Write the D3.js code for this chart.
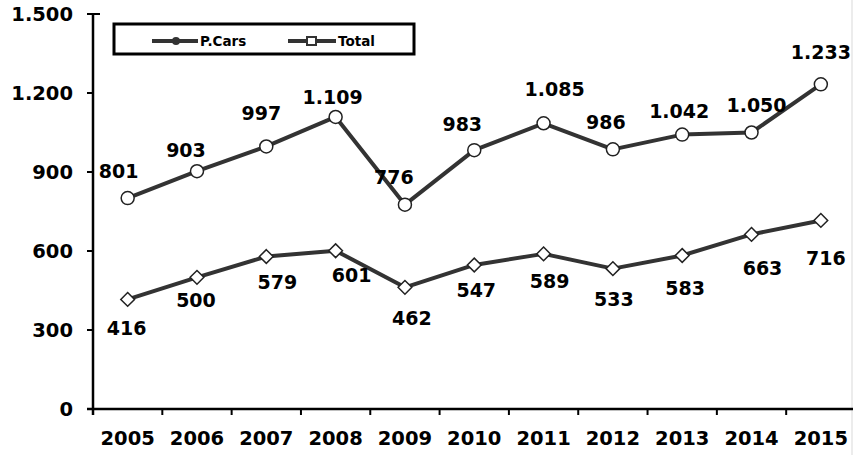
<!DOCTYPE html>
<html>
<head>
<meta charset="utf-8">
<script src="https://cdn.jsdelivr.net/npm/d3@7"></script>
<style>
  html, body { margin: 0; padding: 0; background: #fff; }
  svg { display: block; }
  text { font-family: "DejaVu Sans", Verdana, sans-serif; font-weight: bold; fill: #000; }
</style>
</head>
<body>
<svg id="chart" width="853" height="455"></svg>
<script>
// ---- data ----
const years = ["2005","2006","2007","2008","2009","2010","2011","2012","2013","2014","2015"];
const totalValues = [801, 903, 997, 1109, 776, 983, 1085, 986, 1042, 1050, 1233];
const pcarsValues = [416, 500, 579, 601, 462, 547, 589, 533, 583, 663, 716];
const yTicks = [0, 300, 600, 900, 1200, 1500];
const seriesNames = ["P.Cars", "Total"];

// label placement offsets (px, relative to the marker)
const totalLabelDx = [-9, -11, -5, -3, -11, -12, 11, -7, -3, 5, 0];
const totalLabelDy = [-20, -14, -26, -13, -21, -19, -27, -20, -17, -21, -25];
const pcarsLabelDx = [-1, -1, 11, 16, 7, 2, 6, 1, 3, 11, 5];
const pcarsLabelDy = [36, 30, 32, 31, 38, 32, 34, 37, 40, 41, 45];

const fmt = d3.formatLocale({decimal: ",", thousands: ".", grouping: [3], currency: ["", ""]}).format(",d");

const svg = d3.select("#chart");
const mLeft = 93, mBottom = 409, mTop = 14, mRight = 855.5;

const x = d3.scaleBand().domain(years).range([mLeft, mRight]).padding(0);
const y = d3.scaleLinear().domain([0, 1500]).range([mBottom, mTop]);
const cx = d => x(d) + x.bandwidth() / 2;

// right border (faint)
svg.append("line").attr("x1", 852).attr("x2", 852).attr("y1", 0).attr("y2", 455)
  .attr("stroke", "#d9d9d9").attr("stroke-width", 1);

// y axis
const yAxis = svg.append("g");
yAxis.append("line").attr("x1", mLeft).attr("x2", mLeft).attr("y1", mTop).attr("y2", mBottom + 6)
  .attr("stroke", "#000").attr("stroke-width", 2.5);
yAxis.selectAll("line.tick").data(yTicks).enter().append("line")
  .attr("class", "tick")
  .attr("x1", mLeft - 6).attr("x2", mLeft)
  .attr("y1", d => y(d)).attr("y2", d => y(d))
  .attr("stroke", "#000").attr("stroke-width", 2);
yAxis.append("line").attr("x1", mLeft).attr("x2", mLeft + 7).attr("y1", y(1500)).attr("y2", y(1500))
  .attr("stroke", "#000").attr("stroke-width", 2);
yAxis.selectAll("text").data(yTicks).enter().append("text")
  .attr("x", 73).attr("y", d => y(d)).attr("dy", "0.36em")
  .attr("text-anchor", "end").attr("font-size", 19.5)
  .text(d => fmt(d));

// x axis
const xAxis = svg.append("g");
xAxis.append("line").attr("x1", mLeft - 6).attr("x2", 853).attr("y1", mBottom).attr("y2", mBottom)
  .attr("stroke", "#000").attr("stroke-width", 2.5);
const tickPos = years.map(d => x(d)).concat([x(years[years.length - 1]) + x.bandwidth()]);
xAxis.selectAll("line.tick").data(tickPos.slice(1)).enter().append("line")
  .attr("class", "tick")
  .attr("x1", d => d).attr("x2", d => d).attr("y1", mBottom).attr("y2", mBottom + 6)
  .attr("stroke", "#000").attr("stroke-width", 2);
xAxis.selectAll("text").data(years).enter().append("text")
  .attr("x", d => cx(d)).attr("y", 445)
  .attr("text-anchor", "middle").attr("font-size", 19.5)
  .text(d => d);

// lines
const lineGen = d3.line().x((d, i) => cx(years[i])).y(d => y(d));
const lineColor = "#333333";
svg.append("path").datum(totalValues).attr("d", lineGen)
  .attr("fill", "none").attr("stroke", lineColor).attr("stroke-width", 4).attr("stroke-linejoin", "round");
svg.append("path").datum(pcarsValues).attr("d", lineGen)
  .attr("fill", "none").attr("stroke", lineColor).attr("stroke-width", 4).attr("stroke-linejoin", "round");

// markers
svg.selectAll("circle.total").data(totalValues).enter().append("circle")
  .attr("class", "total")
  .attr("cx", (d, i) => cx(years[i])).attr("cy", d => y(d)).attr("r", 6.5)
  .attr("fill", "#fff").attr("stroke", "#222").attr("stroke-width", 1.5);
const diamond = d3.symbol().type(d3.symbolDiamond2).size(120);
svg.selectAll("path.pcars").data(pcarsValues).enter().append("path")
  .attr("class", "pcars")
  .attr("d", diamond)
  .attr("transform", (d, i) => `translate(${cx(years[i])},${y(d)})`)
  .attr("fill", "#fff").attr("stroke", "#222").attr("stroke-width", 1.5);

// data labels
svg.selectAll("text.tl").data(totalValues).enter().append("text")
  .attr("class", "tl")
  .attr("x", (d, i) => cx(years[i]) + totalLabelDx[i])
  .attr("y", (d, i) => y(d) + totalLabelDy[i])
  .attr("text-anchor", "middle").attr("font-size", 19)
  .text(d => fmt(d));
svg.selectAll("text.pl").data(pcarsValues).enter().append("text")
  .attr("class", "pl")
  .attr("x", (d, i) => cx(years[i]) + pcarsLabelDx[i])
  .attr("y", (d, i) => y(d) + pcarsLabelDy[i])
  .attr("text-anchor", "middle").attr("font-size", 19)
  .text(d => fmt(d));

// legend
const lg = svg.append("g");
lg.append("rect").attr("x", 114).attr("y", 24).attr("width", 300).attr("height", 30)
  .attr("fill", "#fff").attr("stroke", "#000").attr("stroke-width", 3);
const legendItems = [
  {name: seriesNames[0], x0: 152, x1: 198, tx: 200},
  {name: seriesNames[1], x0: 288, x1: 336, tx: 338}
];
lg.selectAll("line.l").data(legendItems).enter().append("line")
  .attr("x1", d => d.x0).attr("x2", d => d.x1).attr("y1", 41).attr("y2", 41)
  .attr("stroke", lineColor).attr("stroke-width", 4);
lg.append("circle").attr("cx", 176).attr("cy", 41).attr("r", 4).attr("fill", "#333");
lg.append("rect").attr("x", 307).attr("y", 37).attr("width", 9).attr("height", 8)
  .attr("fill", "#fff").attr("stroke", "#333").attr("stroke-width", 2);
lg.selectAll("text").data(legendItems).enter().append("text")
  .attr("x", d => d.tx).attr("y", 46).attr("font-size", 13.5)
  .attr("font-family", "'DejaVu Sans Condensed', 'DejaVu Sans', sans-serif")
  .text(d => d.name);
</script>
</body>
</html>
